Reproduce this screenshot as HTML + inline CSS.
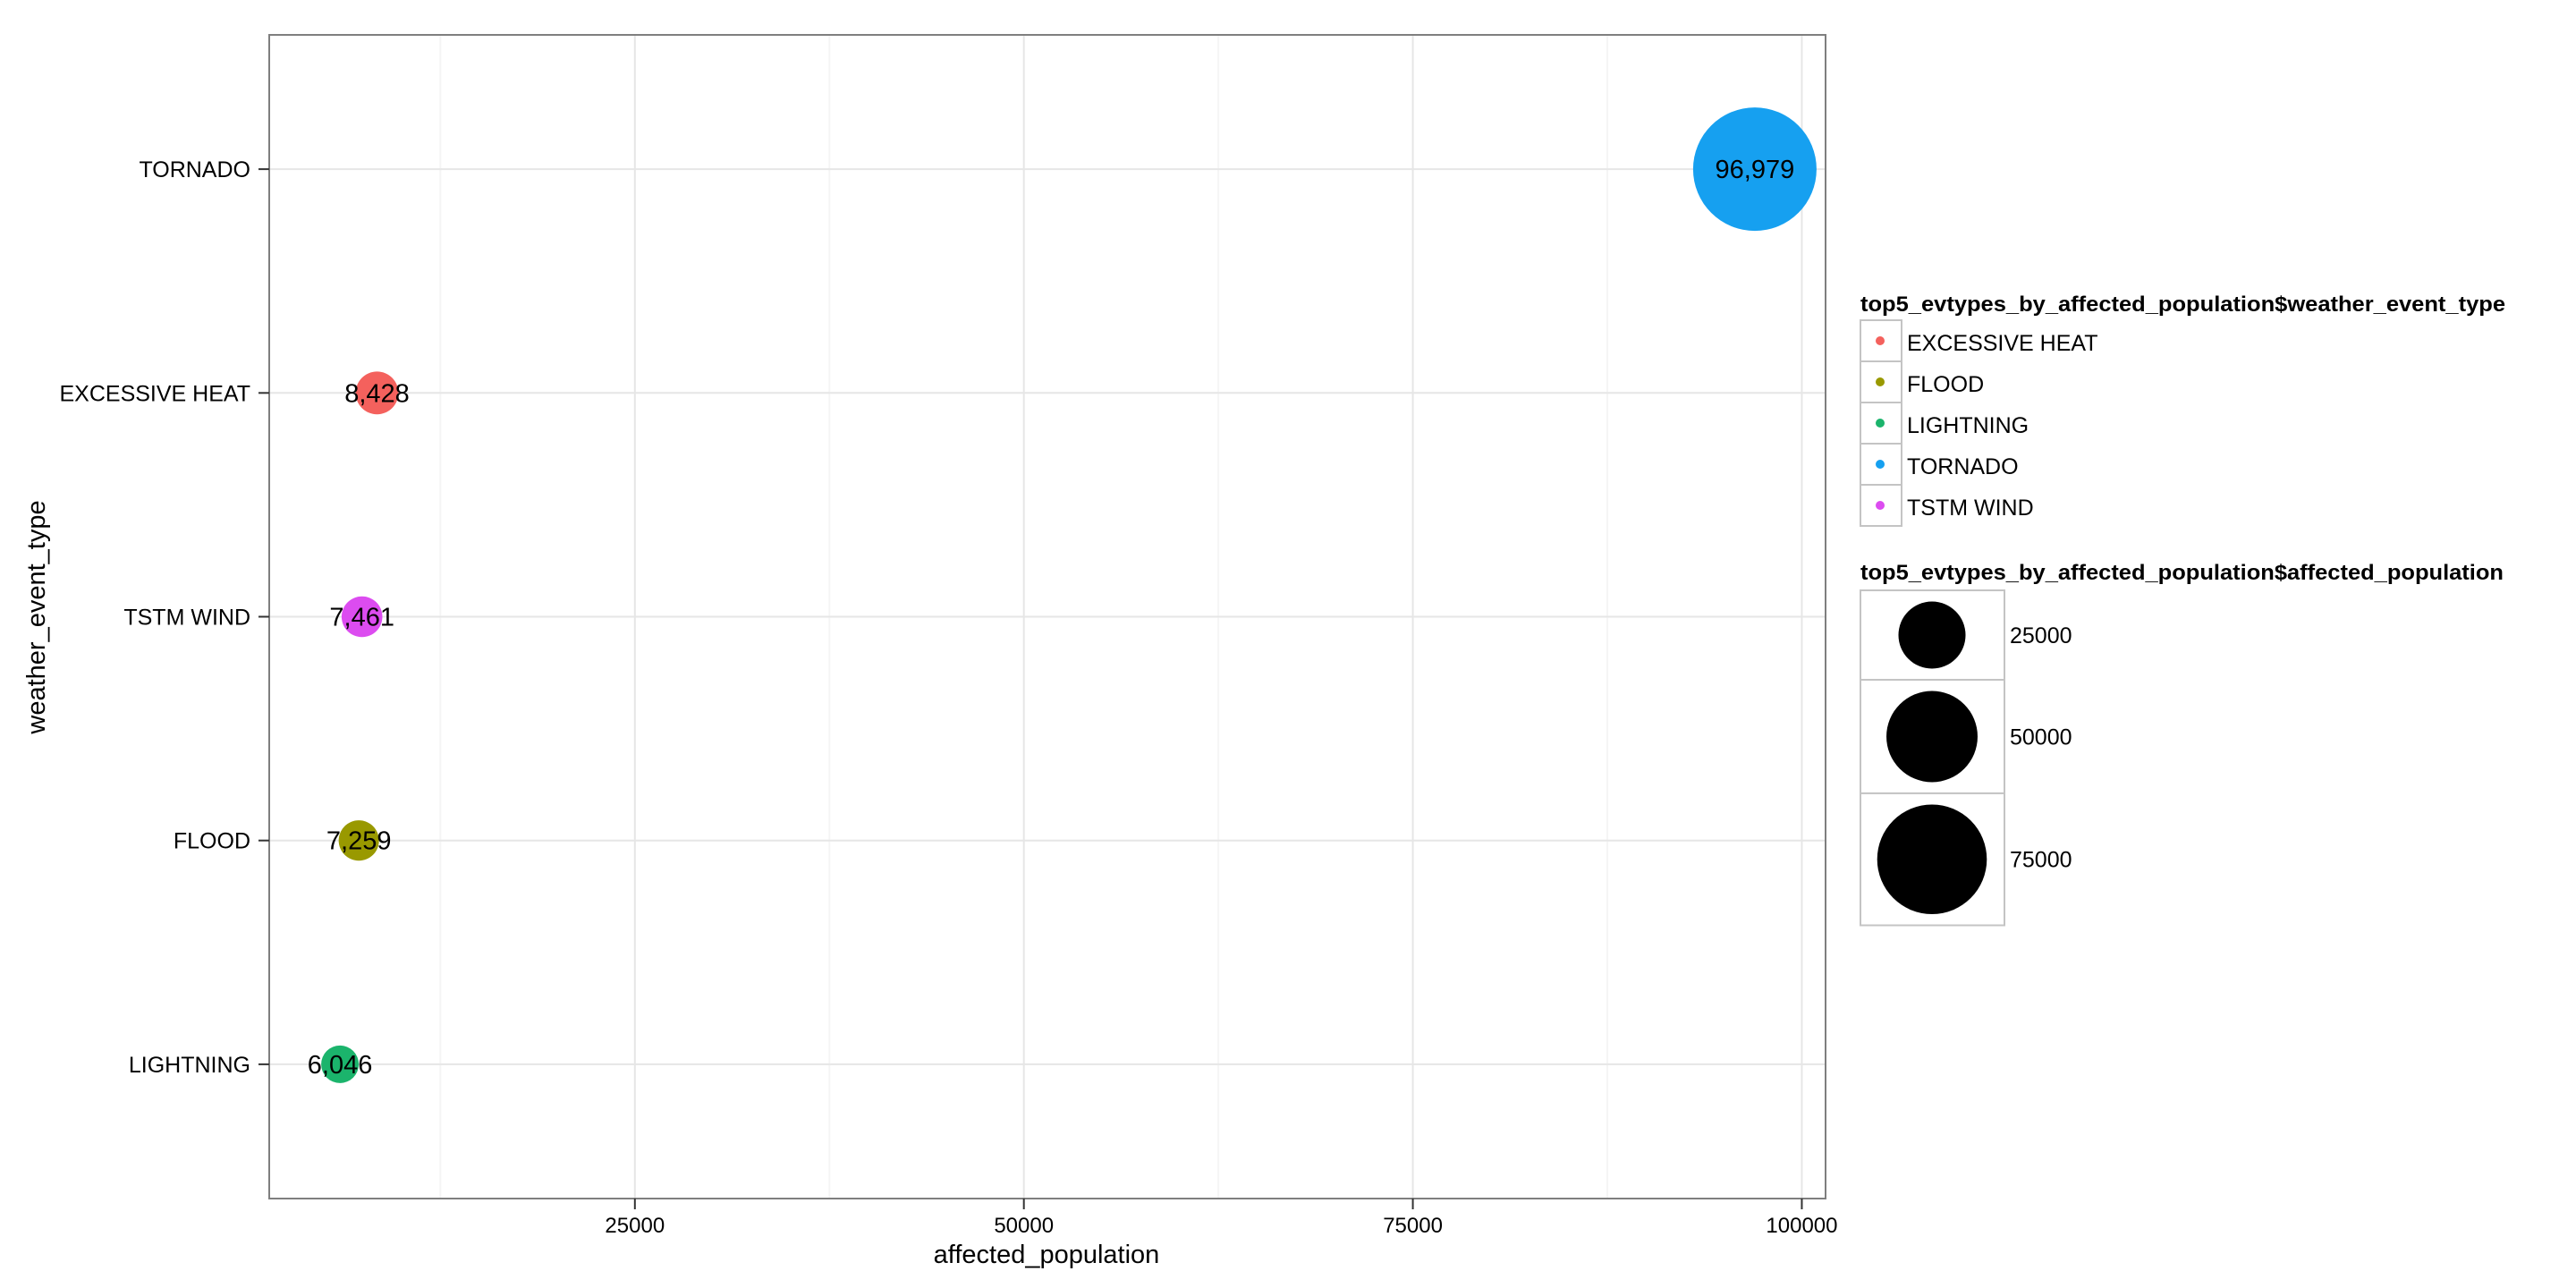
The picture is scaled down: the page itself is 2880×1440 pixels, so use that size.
<!DOCTYPE html>
<html><head><meta charset="utf-8"><style>
html,body{margin:0;padding:0;background:#fff;}
svg{display:block;font-family:"Liberation Sans",Arial,sans-serif;}
</style></head><body>
<svg id="chart" width="2880" height="1440" viewBox="0 0 2880 1440" xmlns="http://www.w3.org/2000/svg">
<rect width="2880" height="1440" fill="#fff"/>
<g id="grid"></g>
<g id="marks"></g>
<rect x="301" y="39" width="1740" height="1301" fill="none" stroke="#7f7f7f" stroke-width="2"/>
<g id="axes"></g>
<text x="1170" y="1412" font-size="29" text-anchor="middle">affected_population</text>
<text transform="translate(50,690) rotate(-90)" font-size="29" text-anchor="middle">weather_event_type</text>
<g id="legend"></g>
</svg>
<script>
const categories = ["TORNADO", "EXCESSIVE HEAT", "TSTM WIND", "FLOOD", "LIGHTNING"];
const values = [96979, 8428, 7461, 7259, 6046];
const valueLabels = ["96,979", "8,428", "7,461", "7,259", "6,046"];
const colors = ["#16A0F0", "#F4615D", "#DC4CF0", "#999900", "#1BB46C"];
const xTicks = [25000, 50000, 75000, 100000];
const xMinorTicks = [12500, 37500, 62500, 87500];
const legendCats = ["EXCESSIVE HEAT", "FLOOD", "LIGHTNING", "TORNADO", "TSTM WIND"];
const legendColors = ["#F4615D", "#999900", "#1BB46C", "#16A0F0", "#DC4CF0"];
const sizeBreaks = [25000, 50000, 75000];

const NS = "http://www.w3.org/2000/svg";
const L = 301, R = 2041, T = 39, B = 1340;
const vmin = Math.min(...values), vmax = Math.max(...values);
const pad = (vmax - vmin) * 0.05;
const d0 = vmin - pad, d1 = vmax + pad;
function xs(v){ return L + (v - d0) / (d1 - d0) * (R - L); }
const n = categories.length;
const step = (B - T) / (n - 1 + 1.2);
function ys(i){ return T + step * (0.6 + i); }
const sqMin = Math.sqrt(vmin), sqMax = Math.sqrt(vmax);
function rs(v){ return 21 + (Math.sqrt(v) - sqMin) / (sqMax - sqMin) * (69 - 21); }
function mk(tag, attrs, parent, text){
  const e = document.createElementNS(NS, tag);
  for (const k in attrs) e.setAttribute(k, attrs[k]);
  if (text !== undefined) e.textContent = text;
  parent.appendChild(e); return e;
}
const grid = document.getElementById('grid');
const marks = document.getElementById('marks');
const axes = document.getElementById('axes');
const legend = document.getElementById('legend');

xMinorTicks.forEach(v => {
  const l = mk('line', {x1: xs(v), x2: xs(v), y1: T, y2: B, stroke: '#f5f5f5', 'stroke-width': 2}, grid);
  
  
});
xTicks.forEach(v => {
  const l = mk('line', {x1: xs(v), x2: xs(v), y1: T, y2: B, stroke: '#e6e6e6', 'stroke-width': 2}, grid);
  
  
  const tk = mk('line', {x1: xs(v), x2: xs(v), y1: B, y2: B + 12, stroke: '#333', 'stroke-width': 2}, axes);
  
  
  const t = mk('text', {x: xs(v), y: 1378, 'font-size': 24, 'text-anchor': 'middle'}, axes, String(v));
  
  
});
categories.forEach((c, i) => {
  const y = ys(i);
  const l = mk('line', {x1: L, x2: R, y1: y, y2: y, stroke: '#e6e6e6', 'stroke-width': 2}, grid);
  
  
  const tk = mk('line', {x1: L - 12, x2: L, y1: y, y2: y, stroke: '#333', 'stroke-width': 2}, axes);
  
  
  const t = mk('text', {x: 280, y: y + 9, 'font-size': 25, 'text-anchor': 'end'}, axes, c);
  
  
  const cx = xs(values[i]);
  const ci = mk('circle', {cx: cx, cy: y, r: rs(values[i]), fill: colors[i]}, marks);
  
  
  const vt = mk('text', {x: cx, y: y + 10, 'font-size': 29, 'text-anchor': 'middle'}, marks, valueLabels[i]);
  
  
});

// colour legend
const t1 = mk('text', {x: 2080, y: 348, 'font-size': 24, 'font-weight': 'bold', textLength: 721, lengthAdjust: 'spacingAndGlyphs'}, legend, 'top5_evtypes_by_affected_population$weather_event_type');


legendCats.forEach((c, i) => {
  const y0 = 358 + i * 46;
  const r = mk('rect', {x: 2080, y: y0, width: 46, height: 46, fill: '#fff', stroke: '#c4c4c4', 'stroke-width': 2}, legend);
  
  
  const d = mk('circle', {cx: 2102, cy: y0 + 23, r: 5, fill: legendColors[i]}, legend);
  
  
  const t = mk('text', {x: 2132, y: y0 + 34, 'font-size': 25}, legend, c);
  
  
});

// size legend
const t2 = mk('text', {x: 2080, y: 648, 'font-size': 24, 'font-weight': 'bold', textLength: 719, lengthAdjust: 'spacingAndGlyphs'}, legend, 'top5_evtypes_by_affected_population$affected_population');


let yTop = 660;
sizeBreaks.forEach(v => {
  const r = rs(v);
  const h = 2 * r + 25;
  const bx = mk('rect', {x: 2080, y: yTop, width: 161, height: h, fill: '#fff', stroke: '#c4c4c4', 'stroke-width': 2}, legend);
  
  
  const c = mk('circle', {cx: 2160, cy: yTop + h / 2, r: r, fill: '#000'}, legend);
  
  
  const t = mk('text', {x: 2247, y: yTop + h / 2 + 9, 'font-size': 25}, legend, String(v));
  
  
  yTop += h;
});
</script>
</body></html>
